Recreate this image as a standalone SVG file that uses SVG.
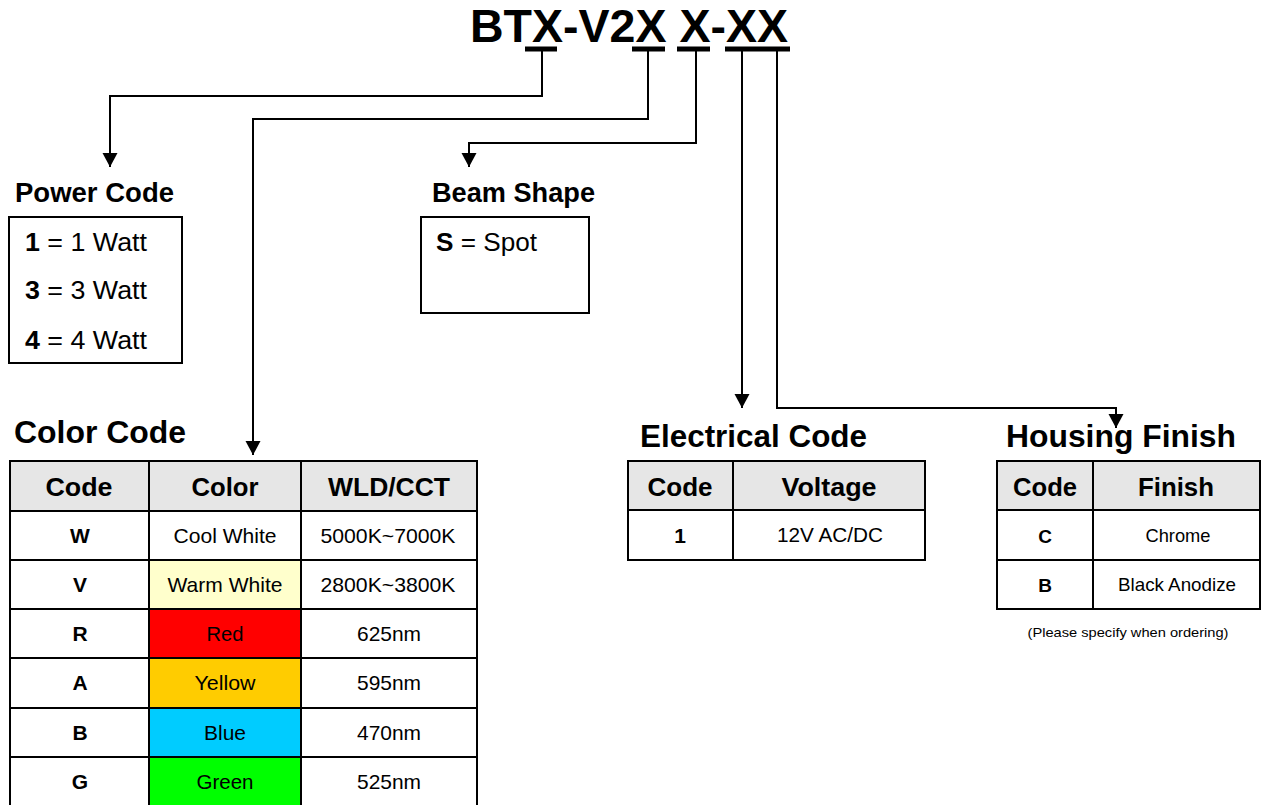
<svg xmlns="http://www.w3.org/2000/svg" width="1263" height="805" viewBox="0 0 1263 805">
<style>
text{font-family:"Liberation Sans",Arial,sans-serif;fill:#000}
.title{font-size:47px;font-weight:bold}
.sec{font-size:27px;font-weight:bold}
.sec2{font-size:31.5px;font-weight:bold}
.th{font-size:26.5px;font-weight:bold;text-anchor:middle}
.td{font-size:21px;text-anchor:middle}
.tdb{font-size:21px;font-weight:bold;text-anchor:middle}
.td2{font-size:18.5px;text-anchor:middle}
.tdb2{font-size:19px;font-weight:bold;text-anchor:middle}
.item{font-size:26.5px}
.box{fill:#fff;stroke:#000;stroke-width:2}
.cell{stroke:#000;stroke-width:2}
.hdr{fill:#e6e6e6}
.conn{fill:none;stroke:#000;stroke-width:2}
.ul{stroke:#000;stroke-width:5}
</style>
<defs>
<marker id="arr" markerUnits="userSpaceOnUse" markerWidth="16" markerHeight="16" refX="14" refY="7.5" orient="auto" viewBox="0 0 16 16">
<path d="M0,0 L14,7.5 L0,15 Z" fill="#000"/>
</marker>
</defs>
<rect width="1263" height="805" fill="#fff"/>

<g id="title">
<text class="title" x="470" y="42" textLength="318" lengthAdjust="spacingAndGlyphs">BTX-V2X X-XX</text>
<line class="ul" x1="525" y1="49" x2="557" y2="49"/>
<line class="ul" x1="632" y1="49" x2="665" y2="49"/>
<line class="ul" x1="677" y1="49" x2="710" y2="49"/>
<line class="ul" x1="725" y1="49" x2="790" y2="49"/>
</g>

<g id="connectors">
<path class="conn" d="M542,51 V96 H110 V167" marker-end="url(#arr)"/>
<path class="conn" d="M648,51 V119 H253 V455" marker-end="url(#arr)"/>
<path class="conn" d="M696,51 V143 H469 V167" marker-end="url(#arr)"/>
<path class="conn" d="M742,51 V408" marker-end="url(#arr)"/>
<path class="conn" d="M777,51 V408 H1116 V428" marker-end="url(#arr)"/>
</g>

<g id="power-code">
<text class="sec" x="15" y="202" textLength="159" lengthAdjust="spacingAndGlyphs">Power Code</text>
<rect class="box" x="9" y="217" width="173" height="146"/>
<text class="item" x="25" y="251" textLength="122" lengthAdjust="spacingAndGlyphs"><tspan font-weight="bold">1</tspan> = 1 Watt</text>
<text class="item" x="25" y="299" textLength="122" lengthAdjust="spacingAndGlyphs"><tspan font-weight="bold">3</tspan> = 3 Watt</text>
<text class="item" x="25" y="349" textLength="122" lengthAdjust="spacingAndGlyphs"><tspan font-weight="bold">4</tspan> = 4 Watt</text>
</g>

<g id="beam-shape">
<text class="sec" x="432" y="202" textLength="163" lengthAdjust="spacingAndGlyphs">Beam Shape</text>
<rect class="box" x="421" y="217" width="168" height="96"/>
<text class="item" x="436" y="251" textLength="101" lengthAdjust="spacingAndGlyphs"><tspan font-weight="bold">S</tspan> = Spot</text>
</g>

<g id="color-code">
<text class="sec2" x="14" y="443" textLength="172" lengthAdjust="spacingAndGlyphs">Color Code</text>
<rect class="hdr" x="10" y="461" width="467" height="50"/>
<rect x="149" y="560" width="152" height="49" fill="#ffffcc"/>
<rect x="149" y="609" width="152" height="49" fill="#ff0000"/>
<rect x="149" y="658" width="152" height="50" fill="#ffcc00"/>
<rect x="149" y="708" width="152" height="49" fill="#00ccff"/>
<rect x="149" y="757" width="152" height="50" fill="#00ff00"/>
<rect x="10" y="461" width="467" height="346" fill="none" class="cell"/>
<line class="cell" x1="149" y1="461" x2="149" y2="807"/>
<line class="cell" x1="301" y1="461" x2="301" y2="807"/>
<line class="cell" x1="10" y1="511" x2="477" y2="511"/>
<line class="cell" x1="10" y1="560" x2="477" y2="560"/>
<line class="cell" x1="10" y1="609" x2="477" y2="609"/>
<line class="cell" x1="10" y1="658" x2="477" y2="658"/>
<line class="cell" x1="10" y1="708" x2="477" y2="708"/>
<line class="cell" x1="10" y1="757" x2="477" y2="757"/>
<text class="th" x="79" y="496" textLength="67" lengthAdjust="spacingAndGlyphs">Code</text>
<text class="th" x="225" y="496" textLength="67" lengthAdjust="spacingAndGlyphs">Color</text>
<text class="th" x="389" y="496" textLength="122" lengthAdjust="spacingAndGlyphs">WLD/CCT</text>
<text class="tdb" x="80" y="543">W</text>
<text class="td" x="225" y="543" textLength="103" lengthAdjust="spacingAndGlyphs">Cool White</text>
<text class="td" x="388" y="543" textLength="135" lengthAdjust="spacingAndGlyphs">5000K~7000K</text>
<text class="tdb" x="80" y="592">V</text>
<text class="td" x="225" y="592" textLength="115" lengthAdjust="spacingAndGlyphs">Warm White</text>
<text class="td" x="388" y="592" textLength="135" lengthAdjust="spacingAndGlyphs">2800K~3800K</text>
<text class="tdb" x="80" y="641">R</text>
<text class="td" x="225" y="641" textLength="37" lengthAdjust="spacingAndGlyphs">Red</text>
<text class="td" x="389" y="641" textLength="64" lengthAdjust="spacingAndGlyphs">625nm</text>
<text class="tdb" x="80" y="690">A</text>
<text class="td" x="225" y="690" textLength="61" lengthAdjust="spacingAndGlyphs">Yellow</text>
<text class="td" x="389" y="690" textLength="64" lengthAdjust="spacingAndGlyphs">595nm</text>
<text class="tdb" x="80" y="740">B</text>
<text class="td" x="225" y="740" textLength="42" lengthAdjust="spacingAndGlyphs">Blue</text>
<text class="td" x="389" y="740" textLength="64" lengthAdjust="spacingAndGlyphs">470nm</text>
<text class="tdb" x="80" y="789">G</text>
<text class="td" x="225" y="789" textLength="57" lengthAdjust="spacingAndGlyphs">Green</text>
<text class="td" x="389" y="789" textLength="64" lengthAdjust="spacingAndGlyphs">525nm</text>
</g>

<g id="electrical-code">
<text class="sec2" x="640" y="447" textLength="227" lengthAdjust="spacingAndGlyphs">Electrical Code</text>
<rect class="hdr" x="628" y="461" width="297" height="49"/>
<rect x="628" y="461" width="297" height="99" fill="none" class="cell"/>
<line class="cell" x1="733" y1="461" x2="733" y2="560"/>
<line class="cell" x1="628" y1="510" x2="925" y2="510"/>
<text class="th" x="680" y="496" textLength="65" lengthAdjust="spacingAndGlyphs">Code</text>
<text class="th" x="829" y="496" textLength="95" lengthAdjust="spacingAndGlyphs">Voltage</text>
<text class="tdb" x="680" y="543">1</text>
<text class="td" x="830" y="542" textLength="106" lengthAdjust="spacingAndGlyphs">12V AC/DC</text>
</g>

<g id="housing-finish">
<text class="sec2" x="1006" y="447" textLength="230" lengthAdjust="spacingAndGlyphs">Housing Finish</text>
<rect class="hdr" x="997" y="461" width="263" height="49"/>
<rect x="997" y="461" width="263" height="148" fill="none" class="cell"/>
<line class="cell" x1="1093" y1="461" x2="1093" y2="609"/>
<line class="cell" x1="997" y1="510" x2="1260" y2="510"/>
<line class="cell" x1="997" y1="560" x2="1260" y2="560"/>
<text class="th" x="1045" y="496" textLength="64" lengthAdjust="spacingAndGlyphs">Code</text>
<text class="th" x="1176" y="496" textLength="76" lengthAdjust="spacingAndGlyphs">Finish</text>
<text class="tdb2" x="1045" y="543">C</text>
<text class="td2" x="1178" y="542" textLength="65" lengthAdjust="spacingAndGlyphs">Chrome</text>
<text class="tdb2" x="1045" y="592">B</text>
<text class="td2" x="1177" y="591" textLength="118" lengthAdjust="spacingAndGlyphs">Black Anodize</text>
<text x="1128" y="637" font-size="13" text-anchor="middle" textLength="201" lengthAdjust="spacingAndGlyphs">(Please specify when ordering)</text>
</g>
</svg>
